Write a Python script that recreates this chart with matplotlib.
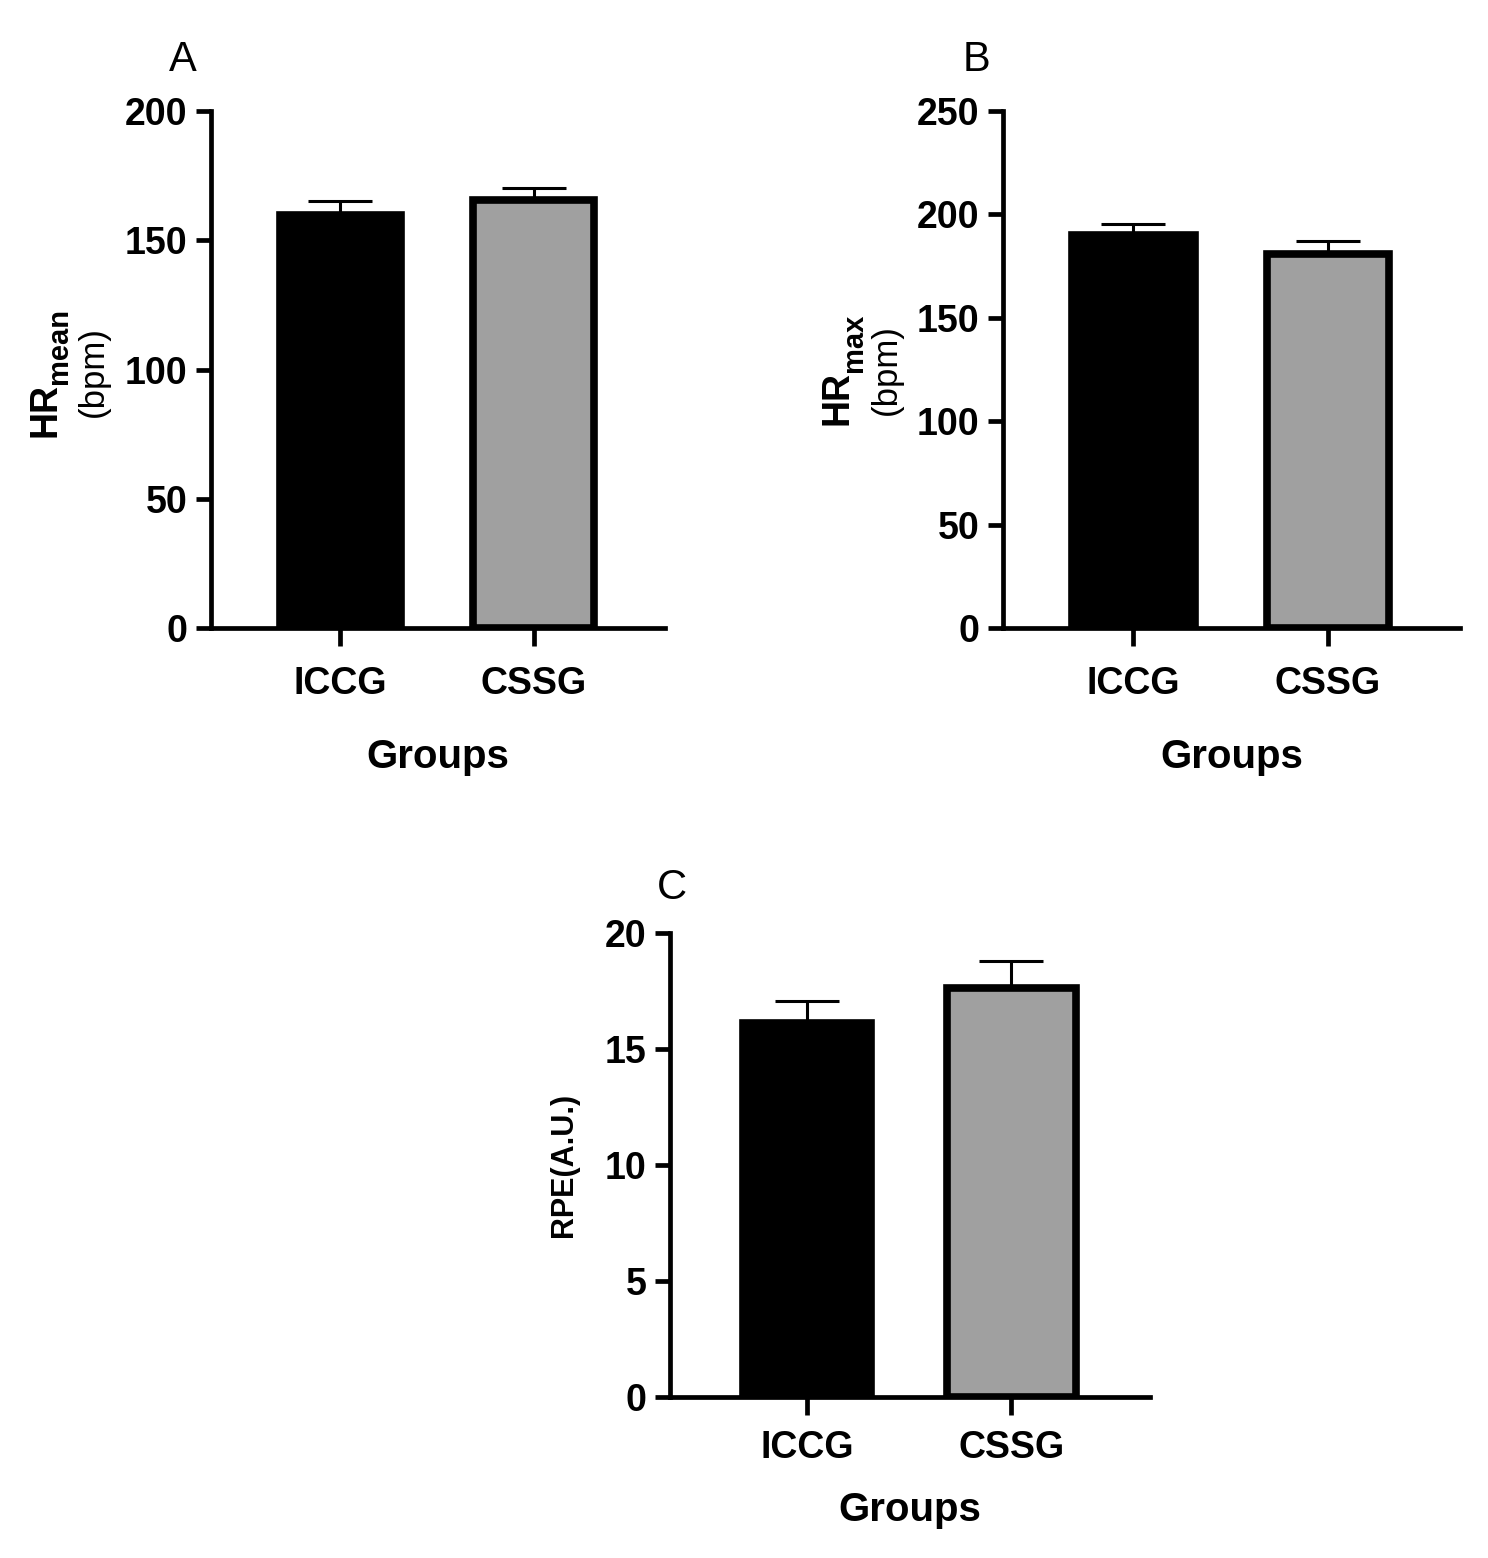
import matplotlib
matplotlib.use("Agg")
import matplotlib.pyplot as plt

plt.rcParams['font.family'] = ['Liberation Sans', 'DejaVu Sans']

# data
groups = ['ICCG', 'CSSG']
hr_mean = [159.9, 165.6]
hr_mean_err = [5.2, 4.5]
hr_max = [190.3, 181.0]
hr_max_err = [4.9, 6.4]
rpe = [16.14, 17.63]
rpe_err = [0.92, 1.16]

bar_colors = ['black', '#a0a0a0']

W, H = 1488, 1558
fig = plt.figure(figsize=(W / 100, H / 100), dpi=100)


def px(x, y):
    # pixel position (from top-left) -> figure fraction
    return x / W, 1 - y / H


def vtext(x, y, s, size, weight='normal', ha='left'):
    fx, fy = px(x, y)
    fig.text(fx, fy, s, rotation=90, rotation_mode='anchor', ha=ha,
             va='baseline', fontsize=size, fontweight=weight)


def draw_panel(rect, values, errs, ymax, ystep, grp_y, tick_pad):
    ax = fig.add_axes(rect)
    x = list(range(len(groups)))
    ax.errorbar(x, values, yerr=[[0] * len(errs), errs], fmt='none',
                ecolor='black', elinewidth=2.2, capsize=23, capthick=2.2, zorder=1)
    ax.bar(x, values, width=0.63, color=bar_colors, edgecolor='black',
           linewidth=5.5, zorder=2)
    ax.set_xlim(-0.67, 1.68)
    ax.set_ylim(0, ymax)
    ax.set_yticks(list(range(0, ymax + 1, ystep)))
    ax.set_xticks(x)
    ax.set_xticklabels(groups)
    for s in ['top', 'right']:
        ax.spines[s].set_visible(False)
    for s in ['left', 'bottom']:
        ax.spines[s].set_linewidth(3.4)
    ax.tick_params(axis='y', length=11, width=3.4, pad=6, labelsize=27)
    ax.tick_params(axis='x', length=13, width=3.4, pad=tick_pad, labelsize=27)
    for lab in ax.get_xticklabels() + ax.get_yticklabels():
        lab.set_fontweight('bold')
    ax.text(0.5, grp_y, 'Groups', transform=ax.transAxes, ha='center',
            va='center', fontsize=29, fontweight='bold')
    return ax


draw_panel([0.1418, 0.5969, 0.3051, 0.3318], hr_mean, hr_mean_err, 200, 50, -0.2495, 14)
draw_panel([0.6741, 0.5969, 0.3071, 0.3318], hr_max, hr_max_err, 250, 50, -0.2495, 14)
axc = draw_panel([0.4503, 0.1033, 0.3226, 0.2978], rpe, rpe_err, 20, 5, -0.2435, 11)
axc.set_ylabel('RPE(A.U.)', fontsize=22, fontweight='bold')
axc.yaxis.set_label_coords(-0.19, 0.5)

# y labels of A and B: HR with subscript, units on a second line
vtext(55, 437, 'HR', 27, 'bold')
vtext(67, 384, 'mean', 21, 'bold')
vtext(103, 372, '(bpm)', 25, ha='center')
vtext(847, 425, 'HR', 27, 'bold')
vtext(862, 372, 'max', 21, 'bold')
vtext(896, 370, '(bpm)', 25, ha='center')

for letter, (lx, ly) in {'A': (183, 60), 'B': (977, 60), 'C': (672, 888)}.items():
    fx, fy = px(lx, ly)
    fig.text(fx, fy, letter, ha='center', va='center', fontsize=30)

fig.savefig('out.png', dpi=100)
